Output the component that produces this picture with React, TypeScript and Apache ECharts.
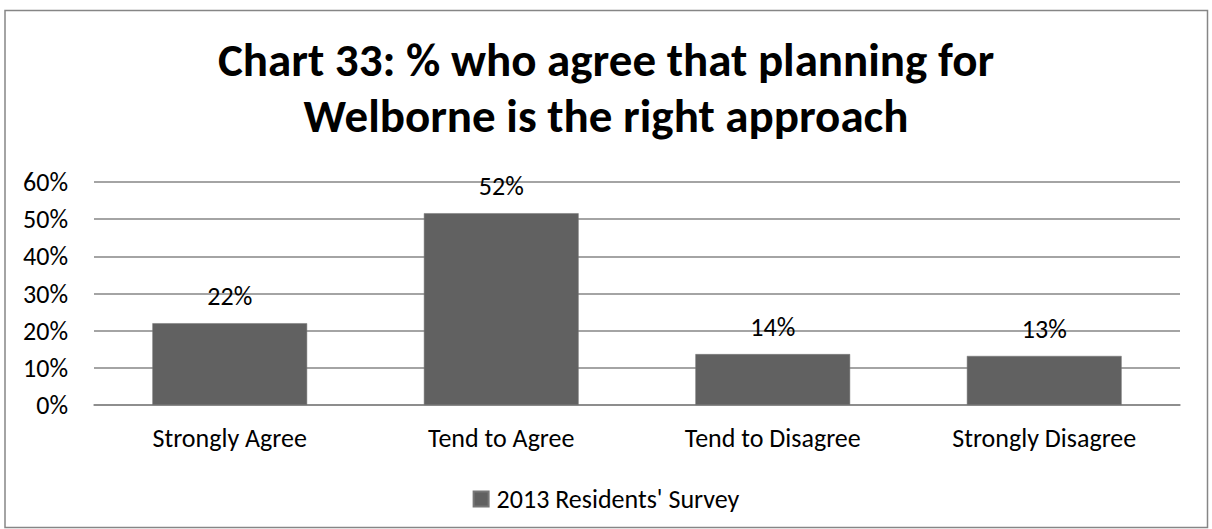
import React, { useEffect, useRef } from "react";
import * as echarts from "echarts";

const categories = ["Strongly Agree", "Tend to Agree", "Tend to Disagree", "Strongly Disagree"];
const values = [22, 51.6, 13.7, 13.2];
const valueLabels = ["22%", "52%", "14%", "13%"];
const seriesName = "2013 Residents' Survey";
const titleLines = ["Chart 33: % who agree that planning for", "Welborne is the right approach"];

const FONT = "Carlito, Calibri, 'Open Sans', 'Liberation Sans', sans-serif";

export default function App() {
  const ref = useRef<HTMLDivElement>(null);
  useEffect(() => {
    document.body.style.margin = "0";
    const chart = echarts.init(ref.current!, undefined, { renderer: "svg" });
    chart.setOption({
      animation: false,
      backgroundColor: "#ffffff",
      title: {
        text: titleLines.join("\n"),
        left: "center",
        top: 32,
        padding: 0,
        textStyle: { fontFamily: FONT, fontWeight: "bold", fontSize: 47, color: "#000", lineHeight: 56 },
      },
      legend: {
        top: 481,
        left: "center",
        itemWidth: 15,
        itemHeight: 15,
        icon: "rect",
        textStyle: { fontFamily: FONT, fontSize: 26, color: "#000", padding: [0, 0, 0, 3] },
        data: [seriesName],
      },
      grid: { left: 94, right: 32, top: 182, bottom: 124 },
      xAxis: {
        type: "category",
        data: categories,
        axisLine: { lineStyle: { color: "#868686", width: 1.5 } },
        axisTick: { show: false },
        axisLabel: { fontFamily: FONT, fontSize: 26, color: "#000", margin: 20 },
      },
      yAxis: {
        type: "value",
        min: 0,
        max: 60,
        interval: 10,
        axisLine: { show: false },
        axisTick: { show: false },
        splitLine: { lineStyle: { color: "#868686", width: 1.5 } },
        axisLabel: { fontFamily: FONT, fontSize: 26, color: "#000", margin: 26, formatter: "{value}%" },
      },
      series: [
        {
          name: seriesName,
          type: "bar",
          data: values,
          barWidth: "57%",
          itemStyle: { color: "#616161", borderColor: "#777", borderWidth: 0.5 },
          label: {
            show: true,
            position: "top",
            distance: 14,
            fontFamily: FONT,
            fontSize: 26,
            color: "#000",
            formatter: (p: any) => valueLabels[p.dataIndex],
          },
        },
      ],
      graphic: [
        {
          type: "rect",
          shape: { x: 5, y: 10.5, width: 1202.5, height: 517 },
          style: { fill: "none", stroke: "#868686", lineWidth: 1.5 },
          silent: true,
        },
      ],
    });
    return () => chart.dispose();
  }, []);
  return <div ref={ref} style={{ width: 1212, height: 529 }} />;
}
